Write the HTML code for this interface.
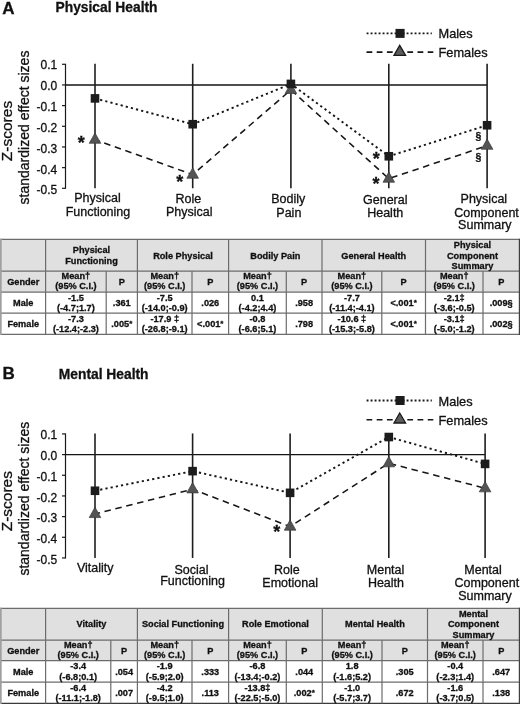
<!DOCTYPE html>
<html><head><meta charset="utf-8"><title>Figure</title>
<style>
html,body{margin:0;padding:0;background:#fff;}
body{width:520px;height:704px;overflow:hidden;font-family:"Liberation Sans",sans-serif;}
text{stroke:#111;stroke-width:0.3px;}
svg{display:block;font-family:"Liberation Sans",sans-serif;will-change:transform;}
</style></head><body>
<svg width="520" height="704" viewBox="0 0 520 704">
<rect x="0" y="0" width="520" height="704" fill="#fff"/>
<text x="2.2" y="13.8" font-size="17" font-weight="bold" fill="#111">A</text>
<text x="55.5" y="12.4" font-size="13.8" font-weight="bold" fill="#111">Physical Health</text>
<text transform="translate(12.4,131) rotate(-90)" text-anchor="middle" font-size="15.5" fill="#111">Z-scores</text>
<text transform="translate(29.2,127.5) rotate(-90)" text-anchor="middle" font-size="14" fill="#111">standardized effect sizes</text>
<line x1="65.5" y1="63.78" x2="65.5" y2="188.8" stroke="#1a1a1a" stroke-width="1.2"/>
<line x1="62" y1="64.28" x2="65.5" y2="64.28" stroke="#1a1a1a" stroke-width="1.2"/>
<text x="57.2" y="69.08" text-anchor="end" font-size="12" fill="#111">0.1</text>
<line x1="62" y1="84.95" x2="65.5" y2="84.95" stroke="#1a1a1a" stroke-width="1.2"/>
<text x="57.2" y="89.98" text-anchor="end" font-size="12" fill="#111">0.0</text>
<line x1="62" y1="105.62" x2="65.5" y2="105.62" stroke="#1a1a1a" stroke-width="1.2"/>
<text x="57.2" y="110.88" text-anchor="end" font-size="12" fill="#111">-0.1</text>
<line x1="62" y1="126.29" x2="65.5" y2="126.29" stroke="#1a1a1a" stroke-width="1.2"/>
<text x="57.2" y="131.78" text-anchor="end" font-size="12" fill="#111">-0.2</text>
<line x1="62" y1="146.96" x2="65.5" y2="146.96" stroke="#1a1a1a" stroke-width="1.2"/>
<text x="57.2" y="152.68" text-anchor="end" font-size="12" fill="#111">-0.3</text>
<line x1="62" y1="167.63" x2="65.5" y2="167.63" stroke="#1a1a1a" stroke-width="1.2"/>
<text x="57.2" y="173.58" text-anchor="end" font-size="12" fill="#111">-0.4</text>
<line x1="62" y1="188.30" x2="65.5" y2="188.30" stroke="#1a1a1a" stroke-width="1.2"/>
<text x="57.2" y="194.48" text-anchor="end" font-size="12" fill="#111">-0.5</text>
<line x1="65.5" y1="84.95" x2="487.1" y2="84.95" stroke="#141414" stroke-width="1.4"/>
<line x1="95" y1="63.78" x2="95" y2="188.3" stroke="#1e1e1e" stroke-width="1.6"/>
<line x1="192.7" y1="63.78" x2="192.7" y2="188.3" stroke="#1e1e1e" stroke-width="1.6"/>
<line x1="290.9" y1="63.78" x2="290.9" y2="188.3" stroke="#1e1e1e" stroke-width="1.6"/>
<line x1="388.8" y1="63.78" x2="388.8" y2="188.3" stroke="#1e1e1e" stroke-width="1.6"/>
<line x1="487.1" y1="63.78" x2="487.1" y2="188.3" stroke="#1e1e1e" stroke-width="1.6"/>
<polyline points="95,139.69 192.7,174.62 290.9,89.87 388.8,178.65 487.1,145.68" fill="none" stroke="#161616" stroke-width="1.55" stroke-dasharray="6.5 4.7" stroke-dashoffset="1.4"/>
<polyline points="95,98.39 192.7,124.22 290.9,83.92 388.8,156.26 487.1,125.26" fill="none" stroke="#161616" stroke-width="1.9" stroke-dasharray="2.2 3.1"/>
<polygon points="95,132.99 89.2,143.29 100.8,143.29" fill="#545454" stroke="#3a3a3a" stroke-width="0.7"/>
<polygon points="192.7,167.92 186.89999999999998,178.22 198.5,178.22" fill="#545454" stroke="#3a3a3a" stroke-width="0.7"/>
<polygon points="290.9,83.17 285.09999999999997,93.47 296.7,93.47" fill="#545454" stroke="#3a3a3a" stroke-width="0.7"/>
<polygon points="388.8,171.95 383.0,182.25 394.6,182.25" fill="#545454" stroke="#3a3a3a" stroke-width="0.7"/>
<polygon points="487.1,138.98 481.3,149.28 492.90000000000003,149.28" fill="#545454" stroke="#3a3a3a" stroke-width="0.7"/>
<rect x="90.7" y="94.09" width="8.6" height="8.6" fill="#1c1c1c"/>
<rect x="188.39999999999998" y="119.92" width="8.6" height="8.6" fill="#1c1c1c"/>
<rect x="286.59999999999997" y="79.62" width="8.6" height="8.6" fill="#1c1c1c"/>
<rect x="384.5" y="151.96" width="8.6" height="8.6" fill="#1c1c1c"/>
<rect x="482.8" y="120.96" width="8.6" height="8.6" fill="#1c1c1c"/>
<text x="77.8" y="149.3" font-size="18" font-weight="bold" fill="#111">*</text>
<text x="176.2" y="188.0" font-size="18" font-weight="bold" fill="#111">*</text>
<text x="372.7" y="165.1" font-size="18" font-weight="bold" fill="#111">*</text>
<text x="372.5" y="190.1" font-size="18" font-weight="bold" fill="#111">*</text>
<text x="475.6" y="139.7" font-size="10.5" font-weight="bold" fill="#111">§</text>
<text x="475.6" y="161.3" font-size="10.5" font-weight="bold" fill="#111">§</text>
<line x1="366.6" y1="33.4" x2="431.8" y2="33.4" stroke="#161616" stroke-width="1.8" stroke-dasharray="1.9 2.1"/>
<rect x="395.5" y="28.9" width="9.1" height="9" fill="#1c1c1c"/>
<text x="438.5" y="38.4" font-size="12.8" fill="#111">Males</text>
<line x1="366.5" y1="52.099999999999994" x2="433.3" y2="52.099999999999994" stroke="#161616" stroke-width="1.6" stroke-dasharray="5.8 4.4"/>
<polygon points="399.7,45.40 394.0,55.40 405.6,55.40" fill="#5c5c5c" stroke="#1a1a1a" stroke-width="1.3" stroke-linejoin="miter"/>
<text x="438.5" y="57.099999999999994" font-size="12.8" fill="#111">Females</text>
<text x="97.55" y="202.2" text-anchor="middle" font-size="12.5" fill="#111">Physical</text>
<text x="97.95" y="215.8" text-anchor="middle" font-size="12.5" fill="#111">Functioning</text>
<text x="188.3" y="202.7" text-anchor="middle" font-size="12.5" fill="#111">Role</text>
<text x="189.25" y="215.8" text-anchor="middle" font-size="12.5" fill="#111">Physical</text>
<text x="288.2" y="203.3" text-anchor="middle" font-size="12.5" fill="#111">Bodily</text>
<text x="288.85" y="217.2" text-anchor="middle" font-size="12.5" fill="#111">Pain</text>
<text x="385.25" y="203.5" text-anchor="middle" font-size="12.5" fill="#111">General</text>
<text x="385.25" y="217.2" text-anchor="middle" font-size="12.5" fill="#111">Health</text>
<text x="483.85" y="203.3" text-anchor="middle" font-size="12.5" fill="#111">Physical</text>
<text x="486.5" y="217.4" text-anchor="middle" font-size="12.5" fill="#111">Component</text>
<text x="484.85" y="229.3" text-anchor="middle" font-size="12.5" fill="#111">Summary</text>
<rect x="0.85" y="239.4" width="518.55" height="52.79999999999998" fill="#e0e0e0"/>
<rect x="0.85" y="292.2" width="518.55" height="42.19999999999999" fill="#fff"/>
<line x1="0" y1="239.4" x2="520" y2="239.4" stroke="#6c6c6c" stroke-width="1.3"/>
<line x1="0" y1="292.2" x2="520" y2="292.2" stroke="#6c6c6c" stroke-width="1.3"/>
<line x1="0" y1="313.1" x2="520" y2="313.1" stroke="#6c6c6c" stroke-width="1.3"/>
<line x1="0" y1="334.4" x2="520" y2="334.4" stroke="#6c6c6c" stroke-width="1.3"/>
<line x1="0.85" y1="271.2" x2="519.4" y2="271.2" stroke="#6c6c6c" stroke-width="1.2"/>
<line x1="0.85" y1="238.8" x2="0.85" y2="335.0" stroke="#a0a0a0" stroke-width="1.7"/>
<line x1="45.6" y1="239.4" x2="45.6" y2="334.4" stroke="#6c6c6c" stroke-width="1.2"/>
<line x1="106.2" y1="271.2" x2="106.2" y2="334.4" stroke="#6c6c6c" stroke-width="1.2"/>
<line x1="137.4" y1="239.4" x2="137.4" y2="334.4" stroke="#6c6c6c" stroke-width="1.2"/>
<line x1="192" y1="271.2" x2="192" y2="334.4" stroke="#6c6c6c" stroke-width="1.2"/>
<line x1="228.6" y1="239.4" x2="228.6" y2="334.4" stroke="#6c6c6c" stroke-width="1.2"/>
<line x1="286.3" y1="271.2" x2="286.3" y2="334.4" stroke="#6c6c6c" stroke-width="1.2"/>
<line x1="322" y1="239.4" x2="322" y2="334.4" stroke="#6c6c6c" stroke-width="1.2"/>
<line x1="381.8" y1="271.2" x2="381.8" y2="334.4" stroke="#6c6c6c" stroke-width="1.2"/>
<line x1="425.5" y1="239.4" x2="425.5" y2="334.4" stroke="#6c6c6c" stroke-width="1.2"/>
<line x1="483" y1="271.2" x2="483" y2="334.4" stroke="#6c6c6c" stroke-width="1.2"/>
<line x1="519.4" y1="238.8" x2="519.4" y2="335.0" stroke="#404040" stroke-width="1.2"/>
<text x="91.50" y="252.85" text-anchor="middle" font-size="9.2" font-weight="bold" fill="#111">Physical</text>
<text x="91.50" y="264.15" text-anchor="middle" font-size="9.2" font-weight="bold" fill="#111">Functioning</text>
<text x="183.00" y="258.50" text-anchor="middle" font-size="9.2" font-weight="bold" fill="#111">Role Physical</text>
<text x="275.30" y="258.50" text-anchor="middle" font-size="9.2" font-weight="bold" fill="#111">Bodily Pain</text>
<text x="373.75" y="258.50" text-anchor="middle" font-size="9.2" font-weight="bold" fill="#111">General Health</text>
<text x="472.45" y="247.70" text-anchor="middle" font-size="9.2" font-weight="bold" fill="#111">Physical</text>
<text x="472.45" y="258.50" text-anchor="middle" font-size="9.2" font-weight="bold" fill="#111">Component</text>
<text x="472.45" y="269.30" text-anchor="middle" font-size="9.2" font-weight="bold" fill="#111">Summary</text>
<text x="23.23" y="284.90" text-anchor="middle" font-size="9.2" font-weight="bold" fill="#111">Gender</text>
<text x="75.90" y="279.20" text-anchor="middle" font-size="9.2" font-weight="bold" fill="#111">Mean†</text>
<text x="75.90" y="289.40" text-anchor="middle" font-size="9.2" font-weight="bold" fill="#111">(95% C.I.)</text>
<text x="121.80" y="284.90" text-anchor="middle" font-size="9.2" font-weight="bold" fill="#111">P</text>
<text x="164.70" y="279.20" text-anchor="middle" font-size="9.2" font-weight="bold" fill="#111">Mean†</text>
<text x="164.70" y="289.40" text-anchor="middle" font-size="9.2" font-weight="bold" fill="#111">(95% C.I.)</text>
<text x="210.30" y="284.90" text-anchor="middle" font-size="9.2" font-weight="bold" fill="#111">P</text>
<text x="257.45" y="279.20" text-anchor="middle" font-size="9.2" font-weight="bold" fill="#111">Mean†</text>
<text x="257.45" y="289.40" text-anchor="middle" font-size="9.2" font-weight="bold" fill="#111">(95% C.I.)</text>
<text x="304.15" y="284.90" text-anchor="middle" font-size="9.2" font-weight="bold" fill="#111">P</text>
<text x="351.90" y="279.20" text-anchor="middle" font-size="9.2" font-weight="bold" fill="#111">Mean†</text>
<text x="351.90" y="289.40" text-anchor="middle" font-size="9.2" font-weight="bold" fill="#111">(95% C.I.)</text>
<text x="403.65" y="284.90" text-anchor="middle" font-size="9.2" font-weight="bold" fill="#111">P</text>
<text x="454.25" y="279.20" text-anchor="middle" font-size="9.2" font-weight="bold" fill="#111">Mean†</text>
<text x="454.25" y="289.40" text-anchor="middle" font-size="9.2" font-weight="bold" fill="#111">(95% C.I.)</text>
<text x="501.20" y="284.90" text-anchor="middle" font-size="9.2" font-weight="bold" fill="#111">P</text>
<text x="23.23" y="305.85" text-anchor="middle" font-size="9.2" font-weight="bold" fill="#111">Male</text>
<text x="75.90" y="300.60" text-anchor="middle" font-size="9.2" font-weight="bold" fill="#111">-1.5</text>
<text x="75.90" y="311.00" text-anchor="middle" font-size="9.2" font-weight="bold" fill="#111">(-4.7;1.7)</text>
<text x="121.80" y="305.85" text-anchor="middle" font-size="9.2" font-weight="bold" fill="#111">.361</text>
<text x="164.70" y="300.60" text-anchor="middle" font-size="9.2" font-weight="bold" fill="#111">-7.5</text>
<text x="164.70" y="311.00" text-anchor="middle" font-size="9.2" font-weight="bold" fill="#111">(-14.0;-0.9)</text>
<text x="210.30" y="305.85" text-anchor="middle" font-size="9.2" font-weight="bold" fill="#111">.026</text>
<text x="257.45" y="300.60" text-anchor="middle" font-size="9.2" font-weight="bold" fill="#111">0.1</text>
<text x="257.45" y="311.00" text-anchor="middle" font-size="9.2" font-weight="bold" fill="#111">(-4.2;4.4)</text>
<text x="304.15" y="305.85" text-anchor="middle" font-size="9.2" font-weight="bold" fill="#111">.958</text>
<text x="351.90" y="300.60" text-anchor="middle" font-size="9.2" font-weight="bold" fill="#111">-7.7</text>
<text x="351.90" y="311.00" text-anchor="middle" font-size="9.2" font-weight="bold" fill="#111">(-11.4;-4.1)</text>
<text x="403.65" y="305.85" text-anchor="middle" font-size="9.2" font-weight="bold" fill="#111">&lt;.001<tspan font-size="8" dy="-0.6">*</tspan></text>
<text x="454.25" y="300.60" text-anchor="middle" font-size="9.2" font-weight="bold" fill="#111">-2.1‡</text>
<text x="454.25" y="311.00" text-anchor="middle" font-size="9.2" font-weight="bold" fill="#111">(-3.6;-0.5)</text>
<text x="501.20" y="305.85" text-anchor="middle" font-size="9.2" font-weight="bold" fill="#111">.009§</text>
<text x="23.23" y="326.95" text-anchor="middle" font-size="9.2" font-weight="bold" fill="#111">Female</text>
<text x="75.90" y="321.50" text-anchor="middle" font-size="9.2" font-weight="bold" fill="#111">-7.3</text>
<text x="75.90" y="331.90" text-anchor="middle" font-size="9.2" font-weight="bold" fill="#111">(-12.4;-2.3)</text>
<text x="121.80" y="326.95" text-anchor="middle" font-size="9.2" font-weight="bold" fill="#111">.005<tspan font-size="8" dy="-0.6">*</tspan></text>
<text x="164.70" y="321.50" text-anchor="middle" font-size="9.2" font-weight="bold" fill="#111">-17.9 ‡</text>
<text x="164.70" y="331.90" text-anchor="middle" font-size="9.2" font-weight="bold" fill="#111">(-26.8;-9.1)</text>
<text x="210.30" y="326.95" text-anchor="middle" font-size="9.2" font-weight="bold" fill="#111">&lt;.001<tspan font-size="8" dy="-0.6">*</tspan></text>
<text x="257.45" y="321.50" text-anchor="middle" font-size="9.2" font-weight="bold" fill="#111">-0.8</text>
<text x="257.45" y="331.90" text-anchor="middle" font-size="9.2" font-weight="bold" fill="#111">(-6.6;5.1)</text>
<text x="304.15" y="326.95" text-anchor="middle" font-size="9.2" font-weight="bold" fill="#111">.798</text>
<text x="351.90" y="321.50" text-anchor="middle" font-size="9.2" font-weight="bold" fill="#111">-10.6 ‡</text>
<text x="351.90" y="331.90" text-anchor="middle" font-size="9.2" font-weight="bold" fill="#111">(-15.3;-5.8)</text>
<text x="403.65" y="326.95" text-anchor="middle" font-size="9.2" font-weight="bold" fill="#111">&lt;.001<tspan font-size="8" dy="-0.6">*</tspan></text>
<text x="454.25" y="321.50" text-anchor="middle" font-size="9.2" font-weight="bold" fill="#111">-3.1‡</text>
<text x="454.25" y="331.90" text-anchor="middle" font-size="9.2" font-weight="bold" fill="#111">(-5.0;-1.2)</text>
<text x="501.20" y="326.95" text-anchor="middle" font-size="9.2" font-weight="bold" fill="#111">.002§</text>
<text x="2.6" y="378.7" font-size="17" font-weight="bold" fill="#111">B</text>
<text x="58.8" y="379" font-size="13.8" font-weight="bold" fill="#111">Mental Health</text>
<text transform="translate(12.4,501.2) rotate(-90)" text-anchor="middle" font-size="15.5" fill="#111">Z-scores</text>
<text transform="translate(29.2,498.7) rotate(-90)" text-anchor="middle" font-size="14" fill="#111">standardized effect sizes</text>
<line x1="65.5" y1="433.43" x2="65.5" y2="558.45" stroke="#1a1a1a" stroke-width="1.2"/>
<line x1="62" y1="433.93" x2="65.5" y2="433.93" stroke="#1a1a1a" stroke-width="1.2"/>
<text x="57.2" y="438.83" text-anchor="end" font-size="12" fill="#111">0.1</text>
<line x1="62" y1="454.60" x2="65.5" y2="454.60" stroke="#1a1a1a" stroke-width="1.2"/>
<text x="57.2" y="459.73" text-anchor="end" font-size="12" fill="#111">0.0</text>
<line x1="62" y1="475.27" x2="65.5" y2="475.27" stroke="#1a1a1a" stroke-width="1.2"/>
<text x="57.2" y="480.63" text-anchor="end" font-size="12" fill="#111">-0.1</text>
<line x1="62" y1="495.94" x2="65.5" y2="495.94" stroke="#1a1a1a" stroke-width="1.2"/>
<text x="57.2" y="501.53" text-anchor="end" font-size="12" fill="#111">-0.2</text>
<line x1="62" y1="516.61" x2="65.5" y2="516.61" stroke="#1a1a1a" stroke-width="1.2"/>
<text x="57.2" y="522.43" text-anchor="end" font-size="12" fill="#111">-0.3</text>
<line x1="62" y1="537.28" x2="65.5" y2="537.28" stroke="#1a1a1a" stroke-width="1.2"/>
<text x="57.2" y="543.33" text-anchor="end" font-size="12" fill="#111">-0.4</text>
<line x1="62" y1="557.95" x2="65.5" y2="557.95" stroke="#1a1a1a" stroke-width="1.2"/>
<text x="57.2" y="564.23" text-anchor="end" font-size="12" fill="#111">-0.5</text>
<line x1="65.5" y1="454.6" x2="485.1" y2="454.6" stroke="#141414" stroke-width="1.4"/>
<line x1="95" y1="433.43" x2="95" y2="557.95" stroke="#1e1e1e" stroke-width="1.6"/>
<line x1="192.6" y1="433.43" x2="192.6" y2="557.95" stroke="#1e1e1e" stroke-width="1.6"/>
<line x1="290.1" y1="433.43" x2="290.1" y2="557.95" stroke="#1e1e1e" stroke-width="1.6"/>
<line x1="388.8" y1="433.43" x2="388.8" y2="557.95" stroke="#1e1e1e" stroke-width="1.6"/>
<line x1="485.1" y1="433.43" x2="485.1" y2="557.95" stroke="#1e1e1e" stroke-width="1.6"/>
<polyline points="95,513.99 192.6,489.29 290.1,526.59 388.8,463.24 485.1,488.25" fill="none" stroke="#161616" stroke-width="1.55" stroke-dasharray="6.5 4.7" stroke-dashoffset="1.4"/>
<polyline points="95,490.77 192.6,471.14 290.1,492.84 388.8,437.03 485.1,463.90" fill="none" stroke="#161616" stroke-width="1.9" stroke-dasharray="2.2 3.1"/>
<polygon points="95,507.29 89.2,517.59 100.8,517.59" fill="#545454" stroke="#3a3a3a" stroke-width="0.7"/>
<polygon points="192.6,482.59 186.79999999999998,492.89 198.4,492.89" fill="#545454" stroke="#3a3a3a" stroke-width="0.7"/>
<polygon points="290.1,519.89 284.3,530.19 295.90000000000003,530.19" fill="#545454" stroke="#3a3a3a" stroke-width="0.7"/>
<polygon points="388.8,456.54 383.0,466.84 394.6,466.84" fill="#545454" stroke="#3a3a3a" stroke-width="0.7"/>
<polygon points="485.1,481.55 479.3,491.85 490.90000000000003,491.85" fill="#545454" stroke="#3a3a3a" stroke-width="0.7"/>
<rect x="90.7" y="486.47" width="8.6" height="8.6" fill="#1c1c1c"/>
<rect x="188.29999999999998" y="466.84" width="8.6" height="8.6" fill="#1c1c1c"/>
<rect x="285.8" y="488.54" width="8.6" height="8.6" fill="#1c1c1c"/>
<rect x="384.5" y="432.73" width="8.6" height="8.6" fill="#1c1c1c"/>
<rect x="480.8" y="459.60" width="8.6" height="8.6" fill="#1c1c1c"/>
<text x="273.3" y="538.3" font-size="18" font-weight="bold" fill="#111">*</text>
<line x1="366.6" y1="400.5" x2="431.8" y2="400.5" stroke="#161616" stroke-width="1.8" stroke-dasharray="1.9 2.1"/>
<rect x="395.5" y="396.0" width="9.1" height="9" fill="#1c1c1c"/>
<text x="438.5" y="405.5" font-size="12.8" fill="#111">Males</text>
<line x1="366.5" y1="419.7" x2="433.3" y2="419.7" stroke="#161616" stroke-width="1.6" stroke-dasharray="5.8 4.4"/>
<polygon points="399.7,413.00 394.0,423.00 405.6,423.00" fill="#5c5c5c" stroke="#1a1a1a" stroke-width="1.3" stroke-linejoin="miter"/>
<text x="438.5" y="424.7" font-size="12.8" fill="#111">Females</text>
<text x="95.25" y="571.8" text-anchor="middle" font-size="12.5" fill="#111">Vitality</text>
<text x="191.4" y="573.6" text-anchor="middle" font-size="12.5" fill="#111">Social</text>
<text x="192.55" y="585.2" text-anchor="middle" font-size="12.5" fill="#111">Functioning</text>
<text x="286.9" y="573.8" text-anchor="middle" font-size="12.5" fill="#111">Role</text>
<text x="290.15" y="587.2" text-anchor="middle" font-size="12.5" fill="#111">Emotional</text>
<text x="385.55" y="573.8" text-anchor="middle" font-size="12.5" fill="#111">Mental</text>
<text x="385.95" y="587.3" text-anchor="middle" font-size="12.5" fill="#111">Health</text>
<text x="483.05" y="573.8" text-anchor="middle" font-size="12.5" fill="#111">Mental</text>
<text x="486.8" y="587.2" text-anchor="middle" font-size="12.5" fill="#111">Component</text>
<text x="485" y="599.5" text-anchor="middle" font-size="12.5" fill="#111">Summary</text>
<rect x="0.85" y="608.3" width="518.55" height="52.40000000000009" fill="#e0e0e0"/>
<rect x="0.85" y="660.7" width="518.55" height="42.69999999999993" fill="#fff"/>
<line x1="0" y1="608.3" x2="520" y2="608.3" stroke="#6c6c6c" stroke-width="1.3"/>
<line x1="0" y1="660.7" x2="520" y2="660.7" stroke="#6c6c6c" stroke-width="1.3"/>
<line x1="0" y1="682.1" x2="520" y2="682.1" stroke="#6c6c6c" stroke-width="1.3"/>
<line x1="0" y1="703.4" x2="520" y2="703.4" stroke="#3a3a3a" stroke-width="1.3"/>
<line x1="0.85" y1="640.2" x2="519.4" y2="640.2" stroke="#6c6c6c" stroke-width="1.2"/>
<line x1="0.85" y1="607.6999999999999" x2="0.85" y2="704.0" stroke="#a0a0a0" stroke-width="1.7"/>
<line x1="45.6" y1="608.3" x2="45.6" y2="703.4" stroke="#6c6c6c" stroke-width="1.2"/>
<line x1="110.8" y1="640.2" x2="110.8" y2="703.4" stroke="#6c6c6c" stroke-width="1.2"/>
<line x1="137.4" y1="608.3" x2="137.4" y2="703.4" stroke="#6c6c6c" stroke-width="1.2"/>
<line x1="192" y1="640.2" x2="192" y2="703.4" stroke="#6c6c6c" stroke-width="1.2"/>
<line x1="228.6" y1="608.3" x2="228.6" y2="703.4" stroke="#6c6c6c" stroke-width="1.2"/>
<line x1="286.3" y1="640.2" x2="286.3" y2="703.4" stroke="#6c6c6c" stroke-width="1.2"/>
<line x1="322.3" y1="608.3" x2="322.3" y2="703.4" stroke="#6c6c6c" stroke-width="1.2"/>
<line x1="382" y1="640.2" x2="382" y2="703.4" stroke="#6c6c6c" stroke-width="1.2"/>
<line x1="427.5" y1="608.3" x2="427.5" y2="703.4" stroke="#6c6c6c" stroke-width="1.2"/>
<line x1="483" y1="640.2" x2="483" y2="703.4" stroke="#6c6c6c" stroke-width="1.2"/>
<line x1="519.4" y1="607.6999999999999" x2="519.4" y2="704.0" stroke="#404040" stroke-width="1.2"/>
<text x="91.50" y="627.45" text-anchor="middle" font-size="9.2" font-weight="bold" fill="#111">Vitality</text>
<text x="183.00" y="627.45" text-anchor="middle" font-size="9.2" font-weight="bold" fill="#111">Social Functioning</text>
<text x="275.45" y="627.45" text-anchor="middle" font-size="9.2" font-weight="bold" fill="#111">Role Emotional</text>
<text x="374.90" y="627.45" text-anchor="middle" font-size="9.2" font-weight="bold" fill="#111">Mental Health</text>
<text x="473.45" y="616.65" text-anchor="middle" font-size="9.2" font-weight="bold" fill="#111">Mental</text>
<text x="473.45" y="627.45" text-anchor="middle" font-size="9.2" font-weight="bold" fill="#111">Component</text>
<text x="473.45" y="638.25" text-anchor="middle" font-size="9.2" font-weight="bold" fill="#111">Summary</text>
<text x="23.23" y="653.65" text-anchor="middle" font-size="9.2" font-weight="bold" fill="#111">Gender</text>
<text x="78.20" y="648.20" text-anchor="middle" font-size="9.2" font-weight="bold" fill="#111">Mean†</text>
<text x="78.20" y="658.40" text-anchor="middle" font-size="9.2" font-weight="bold" fill="#111">(95% C.I.)</text>
<text x="124.10" y="653.65" text-anchor="middle" font-size="9.2" font-weight="bold" fill="#111">P</text>
<text x="164.70" y="648.20" text-anchor="middle" font-size="9.2" font-weight="bold" fill="#111">Mean†</text>
<text x="164.70" y="658.40" text-anchor="middle" font-size="9.2" font-weight="bold" fill="#111">(95% C.I.)</text>
<text x="210.30" y="653.65" text-anchor="middle" font-size="9.2" font-weight="bold" fill="#111">P</text>
<text x="257.45" y="648.20" text-anchor="middle" font-size="9.2" font-weight="bold" fill="#111">Mean†</text>
<text x="257.45" y="658.40" text-anchor="middle" font-size="9.2" font-weight="bold" fill="#111">(95% C.I.)</text>
<text x="304.30" y="653.65" text-anchor="middle" font-size="9.2" font-weight="bold" fill="#111">P</text>
<text x="352.15" y="648.20" text-anchor="middle" font-size="9.2" font-weight="bold" fill="#111">Mean†</text>
<text x="352.15" y="658.40" text-anchor="middle" font-size="9.2" font-weight="bold" fill="#111">(95% C.I.)</text>
<text x="404.75" y="653.65" text-anchor="middle" font-size="9.2" font-weight="bold" fill="#111">P</text>
<text x="455.25" y="648.20" text-anchor="middle" font-size="9.2" font-weight="bold" fill="#111">Mean†</text>
<text x="455.25" y="658.40" text-anchor="middle" font-size="9.2" font-weight="bold" fill="#111">(95% C.I.)</text>
<text x="501.20" y="653.65" text-anchor="middle" font-size="9.2" font-weight="bold" fill="#111">P</text>
<text x="23.23" y="674.60" text-anchor="middle" font-size="9.2" font-weight="bold" fill="#111">Male</text>
<text x="78.20" y="669.10" text-anchor="middle" font-size="9.2" font-weight="bold" fill="#111">-3.4</text>
<text x="78.20" y="679.50" text-anchor="middle" font-size="9.2" font-weight="bold" fill="#111">(-6.8;0.1)</text>
<text x="124.10" y="674.60" text-anchor="middle" font-size="9.2" font-weight="bold" fill="#111">.054</text>
<text x="164.70" y="669.10" text-anchor="middle" font-size="9.2" font-weight="bold" fill="#111">-1.9</text>
<text x="164.70" y="679.50" text-anchor="middle" font-size="9.2" font-weight="bold" fill="#111">(-5.9;2.0)</text>
<text x="210.30" y="674.60" text-anchor="middle" font-size="9.2" font-weight="bold" fill="#111">.333</text>
<text x="257.45" y="669.10" text-anchor="middle" font-size="9.2" font-weight="bold" fill="#111">-6.8</text>
<text x="257.45" y="679.50" text-anchor="middle" font-size="9.2" font-weight="bold" fill="#111">(-13.4;-0.2)</text>
<text x="304.30" y="674.60" text-anchor="middle" font-size="9.2" font-weight="bold" fill="#111">.044</text>
<text x="352.15" y="669.10" text-anchor="middle" font-size="9.2" font-weight="bold" fill="#111">1.8</text>
<text x="352.15" y="679.50" text-anchor="middle" font-size="9.2" font-weight="bold" fill="#111">(-1.6;5.2)</text>
<text x="404.75" y="674.60" text-anchor="middle" font-size="9.2" font-weight="bold" fill="#111">.305</text>
<text x="455.25" y="669.10" text-anchor="middle" font-size="9.2" font-weight="bold" fill="#111">-0.4</text>
<text x="455.25" y="679.50" text-anchor="middle" font-size="9.2" font-weight="bold" fill="#111">(-2.3;1.4)</text>
<text x="501.20" y="674.60" text-anchor="middle" font-size="9.2" font-weight="bold" fill="#111">.647</text>
<text x="23.23" y="695.95" text-anchor="middle" font-size="9.2" font-weight="bold" fill="#111">Female</text>
<text x="78.20" y="690.50" text-anchor="middle" font-size="9.2" font-weight="bold" fill="#111">-6.4</text>
<text x="78.20" y="700.90" text-anchor="middle" font-size="9.2" font-weight="bold" fill="#111">(-11.1;-1.8)</text>
<text x="124.10" y="695.95" text-anchor="middle" font-size="9.2" font-weight="bold" fill="#111">.007</text>
<text x="164.70" y="690.50" text-anchor="middle" font-size="9.2" font-weight="bold" fill="#111">-4.2</text>
<text x="164.70" y="700.90" text-anchor="middle" font-size="9.2" font-weight="bold" fill="#111">(-9.5;1.0)</text>
<text x="210.30" y="695.95" text-anchor="middle" font-size="9.2" font-weight="bold" fill="#111">.113</text>
<text x="257.45" y="690.50" text-anchor="middle" font-size="9.2" font-weight="bold" fill="#111">-13.8‡</text>
<text x="257.45" y="700.90" text-anchor="middle" font-size="9.2" font-weight="bold" fill="#111">(-22.5;-5.0)</text>
<text x="304.30" y="695.95" text-anchor="middle" font-size="9.2" font-weight="bold" fill="#111">.002<tspan font-size="8" dy="-0.6">*</tspan></text>
<text x="352.15" y="690.50" text-anchor="middle" font-size="9.2" font-weight="bold" fill="#111">-1.0</text>
<text x="352.15" y="700.90" text-anchor="middle" font-size="9.2" font-weight="bold" fill="#111">(-5.7;3.7)</text>
<text x="404.75" y="695.95" text-anchor="middle" font-size="9.2" font-weight="bold" fill="#111">.672</text>
<text x="455.25" y="690.50" text-anchor="middle" font-size="9.2" font-weight="bold" fill="#111">-1.6</text>
<text x="455.25" y="700.90" text-anchor="middle" font-size="9.2" font-weight="bold" fill="#111">(-3.7;0.5)</text>
<text x="501.20" y="695.95" text-anchor="middle" font-size="9.2" font-weight="bold" fill="#111">.138</text>
</svg>
</body></html>
